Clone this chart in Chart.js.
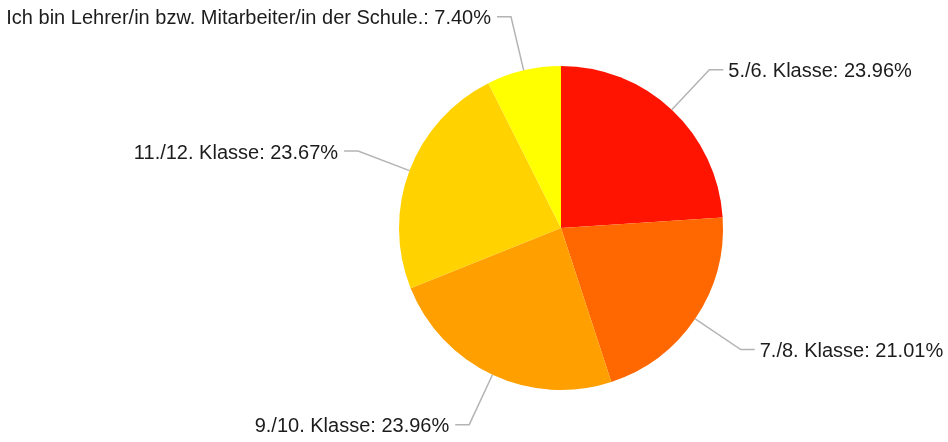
<!DOCTYPE html>
<html>
<head>
<meta charset="utf-8">
<script src="https://cdn.jsdelivr.net/npm/chart.js@4.4.1/dist/chart.umd.min.js"></script>
<style>
html,body{margin:0;padding:0;background:#fff;}
#wrap{width:948px;height:442px;position:relative;}
</style>
</head>
<body>
<div id="wrap"><canvas id="c" width="948" height="442"></canvas></div>
<script>
const categories = ["5./6. Klasse", "7./8. Klasse", "9./10. Klasse", "11./12. Klasse", "Ich bin Lehrer/in bzw. Mitarbeiter/in der Schule."];
const percentages = [23.96, 21.01, 23.96, 23.67, 7.40];
const sliceColors = ["#fe1400", "#ff6800", "#ffa000", "#ffd200", "#ffff00"];

const leaderPlugin = {
  id: 'leaders',
  afterDatasetsDraw(chart) {
    const ctx = chart.ctx;
    const meta = chart.getDatasetMeta(0);
    ctx.save();
    ctx.font = '20px "Liberation Sans", Arial, sans-serif';
    ctx.textBaseline = 'middle';
    meta.data.forEach((arc, i) => {
      const p = arc.getProps(['x','y','startAngle','endAngle','outerRadius'], true);
      const mid = (p.startAngle + p.endAngle) / 2;
      const cx = Math.cos(mid), sy = Math.sin(mid);
      const x0 = p.x + cx * p.outerRadius, y0 = p.y + sy * p.outerRadius;
      const ext = 55;
      const x1 = p.x + cx * (p.outerRadius + ext), y1 = p.y + sy * (p.outerRadius + ext);
      const right = cx >= 0;
      const x2 = x1 + (right ? 14 : -14);
      ctx.strokeStyle = '#b4b4b4';
      ctx.lineWidth = 1.5;
      ctx.beginPath();
      ctx.moveTo(x0, y0);
      ctx.lineTo(x1, y1);
      ctx.lineTo(x2, y1);
      ctx.stroke();
      const label = categories[i] + ': ' + percentages[i].toFixed(2) + '%';
      ctx.fillStyle = '#1c1c1c';
      ctx.textAlign = right ? 'left' : 'right';
      ctx.fillText(label, x2 + (right ? 5 : -6), y1 + 2);
    });
    ctx.restore();
  }
};

new Chart(document.getElementById('c'), {
  type: 'pie',
  data: {
    labels: categories,
    datasets: [{
      data: percentages,
      backgroundColor: sliceColors,
      borderWidth: 0
    }]
  },
  options: {
    responsive: false,
    animation: false,
    layout: { padding: { left: 399, right: 225, top: 66, bottom: 52 } },
    plugins: { legend: { display: false }, tooltip: { enabled: false } }
  },
  plugins: [leaderPlugin]
});
</script>
</body>
</html>
